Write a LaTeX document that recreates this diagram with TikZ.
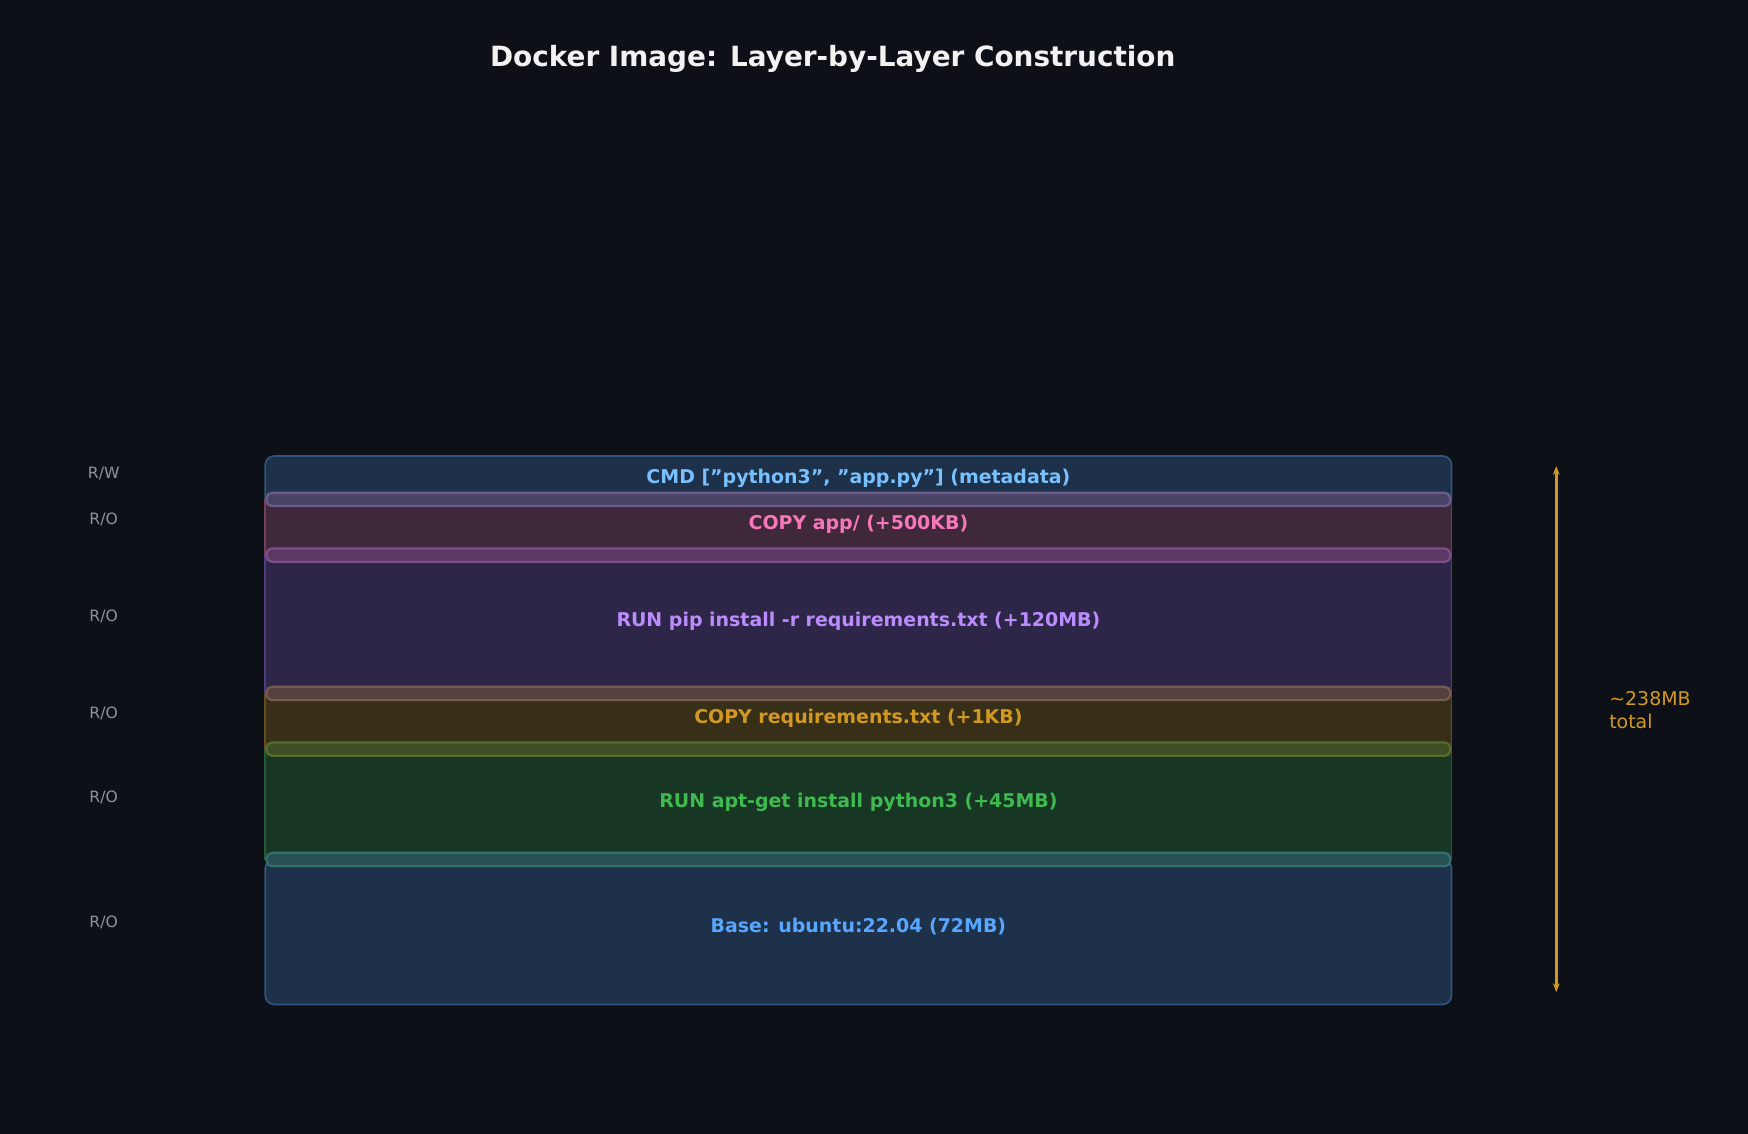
\documentclass[tikz,border=0pt]{standalone}
\usepackage{fontspec}
\setmainfont{DejaVu Sans}
\usetikzlibrary{arrows.meta}
\definecolor{bg}{HTML}{0D1117}
\definecolor{gr}{HTML}{8B949E}
\definecolor{gold}{HTML}{D29922}
\tikzset{
 layer/.style={draw=#1!45!bg, line width=1.5pt, fill=#1!22!bg},
 seam/.style={draw=#1!60!bg, line width=2pt, fill=#1!40!bg, rounded corners=5pt},
 lbl/.style={font=\bfseries\fontsize{17}{20}\selectfont, text=#1},
 side/.style={font=\fontsize{14}{16}\selectfont, text=gr},
}
\definecolor{cA}{HTML}{58A6FF}
\definecolor{cAt}{HTML}{79C0FF}
\definecolor{cB}{HTML}{F778BA}
\definecolor{cC}{HTML}{A371F7}
\definecolor{cCt}{HTML}{BC8CFF}
\definecolor{cD}{HTML}{D29922}
\definecolor{cE}{HTML}{3FB950}
\begin{document}
\begin{tikzpicture}[x=1pt,y=-1pt]
\fill[bg] (0,0) rectangle (1568,1017);
\useasboundingbox (0,0) rectangle (1568,1017);
\node[font=\bfseries\fontsize{25}{30}\selectfont, text=white!90!gray] (title) at (747,53) {Docker Image: Layer-by-Layer Construction};
% layers
\draw[layer=cA, rounded corners=8pt] (238,771) rectangle (1302,901);
\draw[layer=cE] (238,672) rectangle (1302,771);
\draw[layer=cD] (238,622) rectangle (1302,672);
\draw[layer=cC] (238,498) rectangle (1302,622);
\draw[layer=cB] (238,448) rectangle (1302,498);
\draw[layer=cA, rounded corners=8pt] (238,448) -- (238,409) -- (1302,409) -- (1302,448);
% seams
\draw[seam=cA!50!cB] (239,442) rectangle (1301,454);
\draw[seam=cB!50!cC] (239,492) rectangle (1301,504);
\draw[seam=cC!40!cD] (239,616) rectangle (1301,628);
\draw[seam=cD!50!cE] (239,666) rectangle (1301,678);
\draw[seam=cE!50!cA] (239,765) rectangle (1301,777);
% labels
\node[lbl=cAt] (l1) at (770,429) {CMD ["python3", "app.py"] (metadata)};
\node[lbl=cB] (l2) at (770,470) {COPY app/ (+500KB)};
\node[lbl=cCt] (l3) at (770,557) {RUN pip install -r requirements.txt (+120MB)};
\node[lbl=cD] (l4) at (770,644) {COPY requirements.txt (+1KB)};
\node[lbl=cE] (l5) at (770,720) {RUN apt-get install python3 (+45MB)};
\node[lbl=cA] (l6) at (770,831) {Base: ubuntu:22.04 (72MB)};
\node[side] (s1) at (93,425) {R/W};
\node[side] (s2) at (93,466) {R/O};
\node[side] (s3) at (93,553) {R/O};
\node[side] (s4) at (93,640) {R/O};
\node[side] (s5) at (93,715) {R/O};
\node[side] (s6) at (93,827) {R/O};
\coordinate (at) at (1396,418);
\coordinate (ab) at (1396,890);
\draw[gold, line width=2.5pt, {Stealth[length=8pt]}-{Stealth[length=8pt]}] (at) -- (ab);
\node[font=\fontsize{17}{20}\selectfont, text=gold, align=left, anchor=west] (tot) at (1440,637) {\textasciitilde238MB\\total};
\end{tikzpicture}
\end{document}
